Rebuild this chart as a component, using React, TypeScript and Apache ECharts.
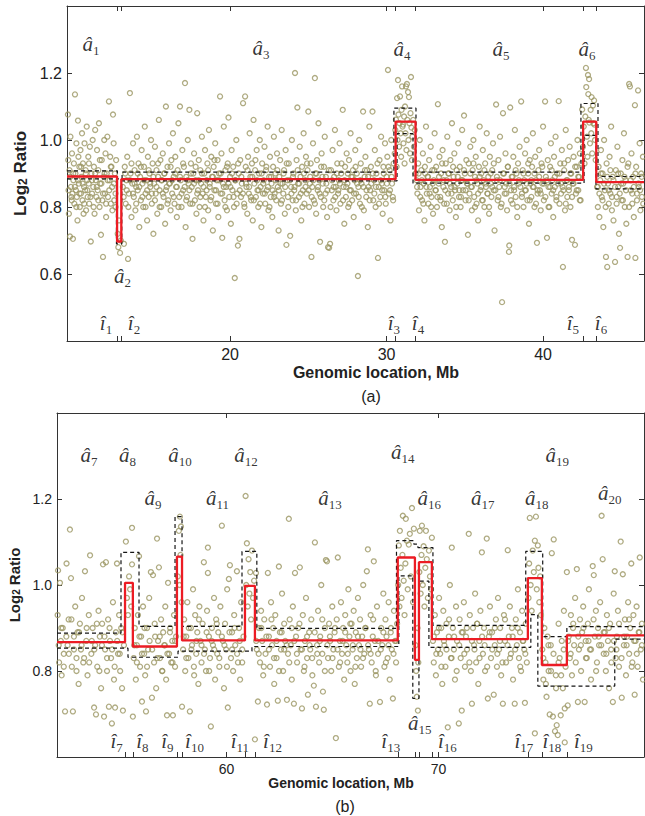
import React, { useEffect, useRef } from "react";
import * as echarts from "echarts";

const OLIVE = "#9b9663";
const RED = "#ec1c24";
const DASH = "#151515";

// ---------- Panel (a) ----------
const xRangeA = [9.58, 46.45];
const yRangeA = [0.4, 1.4];
const xLabelTicksA = [20, 30, 40];
const yLabelTicksA = [0.6, 0.8, 1.0, 1.2];
const breaksA = [12.78, 13.05, 30.58, 31.85, 42.56, 43.4];
const levelsA = [0.891, 0.697, 0.883, 1.055, 0.881, 1.055, 0.874];
const upBreaksA = [12.8, 13.1, 30.47, 31.88, 42.42, 43.51];
const upLevelsA = [0.908, 0.884, 0.904, 1.095, 0.904, 1.109, 0.891];
const lowBreaksA = [12.74, 13.08, 30.67, 31.69, 42.62, 43.38];
const lowLevelsA = [0.884, 0.69, 0.878, 1.019, 0.871, 1.014, 0.854];
const aHatA = [[11.11, 1.287, "1"], [13.13, 0.594, "2"], [21.98, 1.275, "3"], [30.99, 1.272, "4"], [37.31, 1.272, "5"], [42.81, 1.272, "6"]];
const iHatA = [[12.07, 0.455, "1"], [13.86, 0.455, "2"], [30.47, 0.455, "3"], [32.01, 0.455, "4"], [41.91, 0.455, "5"], [43.7, 0.455, "6"]];

const ptsA1 = [[9.64,1.076],[9.66,.94],[9.7,.78],[9.74,.91],[9.77,.712],[9.8,1.01],[9.83,.86],[9.86,.83],[9.9,.96],[9.93,.84],[9.96,.705],[9.99,.88],[10.02,.93],[10.05,.81],[10.09,1.136],[10.12,.9],[10.15,.85],[10.18,.99],[10.21,.83],[10.25,.76],[10.28,1.058],[10.31,.95],[10.34,.87],[10.37,.92],[10.4,.8],[10.44,.97],[10.47,.84],[10.5,.89],[10.54,1.02],[10.57,.82],[10.6,.93],[10.64,.78],[10.67,.86],[10.7,.99],[10.74,.85],[10.77,.91],[10.8,.79],[10.84,1.04],[10.87,.88],[10.9,.83],[10.94,.95],[10.97,.87],[11.0,.81],[11.04,.98],[11.1,.697],[11.14,.9],[11.18,.84],[11.22,1.0],[11.26,.86],[11.3,.92],[11.34,.78],[11.38,1.03],[11.42,.88],[11.46,.83],[11.5,.97],[11.54,.85],[11.58,.91],[11.62,1.05],[11.66,.8],[11.7,.87],[11.75,.717],[11.8,.94],[11.84,.82],[11.88,.651],[11.92,.89],[11.96,1.0],[12.0,.84],[12.04,.96],[12.08,.77],[12.12,.9],[12.16,1.01],[12.2,.83],[12.26,1.115],[12.3,.88],[12.34,.95],[12.38,.81],[12.42,.92],[12.46,.86],[12.52,1.076],[12.56,.99],[12.6,.82],[12.64,.9],[12.68,.8],[12.72,.94],[12.82,.72],[12.86,.68],[12.9,.76],[12.97,.663],[13.02,.7]];
const ptsA2 = [[13.15,.86],[13.22,.69],[13.27,.92],[13.33,.81],[13.38,.88],[13.43,.95],[13.48,.645],[13.53,.84],[13.6,1.14],[13.64,.9],[13.7,.77],[13.75,.87],[13.8,.99],[13.85,.83],[13.9,.91],[13.95,.79],[14.0,.86],[14.05,1.01],[14.1,.85],[14.15,.93],[14.2,.74],[14.25,.89],[14.3,.82],[14.35,.97],[14.4,.87],[14.45,.8],[14.5,.92],[14.55,1.04],[14.6,.84],[14.65,.88],[14.7,.76],[14.75,.95],[14.8,.83],[14.85,.9],[14.9,.86],[14.95,1.0],[15.0,.81],[15.05,.93],[15.1,.72],[15.15,.87],[15.2,.98],[15.25,.84],[15.3,.91],[15.35,.78],[15.4,.89],[15.45,1.06],[15.5,.85],[15.55,.94],[15.6,.8],[15.65,.88],[15.7,.96],[15.75,.83],[15.8,.9],[15.85,.75],[15.9,1.1],[15.95,.86],[16.0,.92],[16.05,.82],[16.1,.99],[16.15,.87],[16.2,.79],[16.25,.94],[16.3,.84],[16.35,1.02],[16.4,.89],[16.45,.81],[16.5,.95],[16.55,.86],[16.6,.77],[16.65,.91],[16.7,1.05],[16.75,.83],[16.8,1.1],[16.85,.88],[16.9,.8],[16.95,.97],[17.0,.85],[17.05,.92],[17.12,1.17],[17.16,.74],[17.2,.89],[17.25,.83],[17.3,1.0],[17.35,.87],[17.4,1.09],[17.45,.81],[17.5,.93],[17.55,.86],[17.6,.705],[17.65,.9],[17.7,.96],[17.75,.82],[17.8,.88],[17.85,.78],[17.9,1.08],[17.95,.85],[18.0,.94],[18.05,.8],[18.1,.91],[18.15,.87],[18.2,1.01],[18.25,.84],[18.3,.76],[18.35,.9],[18.4,.97],[18.45,.83],[18.5,.88],[18.55,.93],[18.6,.79],[18.65,1.03],[18.7,.86],[18.75,.82],[18.8,.95],[18.85,.89],[18.9,.73],[18.95,.92],[19.0,.85],[19.05,.99],[19.1,.81],[19.15,.88],[19.2,.94],[19.25,.77],[19.3,.9],[19.36,1.13],[19.4,.84],[19.45,.96],[19.5,.708],[19.55,.87],[19.6,1.04],[19.65,.82],[19.7,.91],[19.75,.86],[19.8,.79],[19.85,.93],[19.9,1.067],[19.95,.83]];
const ptsA3 = [[20.0,.89],[20.05,.75],[20.1,.97],[20.15,.85],[20.2,.92],[20.25,.8],[20.3,.588],[20.35,.88],[20.4,1.0],[20.45,.84],[20.5,.685],[20.55,.9],[20.6,.705],[20.65,.94],[20.7,.83],[20.75,.87],[20.83,1.11],[20.9,.81],[20.96,1.13],[21.0,.92],[21.05,.86],[21.1,.78],[21.15,.95],[21.2,.84],[21.25,1.02],[21.3,.89],[21.35,.82],[21.4,.93],[21.45,.76],[21.5,1.06],[21.55,.87],[21.6,.91],[21.65,.83],[21.7,.97],[21.75,.85],[21.8,.8],[21.85,.9],[21.9,1.0],[21.95,.86],[22.0,.74],[22.05,.93],[22.1,.84],[22.15,.88],[22.2,.98],[22.25,.81],[22.3,.91],[22.35,.85],[22.4,1.04],[22.45,.79],[22.5,.89],[22.55,.95],[22.6,.83],[22.65,.87],[22.7,.77],[22.75,.92],[22.8,1.01],[22.85,.84],[22.9,.9],[22.95,.82],[23.0,.96],[23.05,.86],[23.1,.73],[23.15,.89],[23.2,.94],[23.25,.81],[23.3,1.03],[23.35,.87],[23.4,.84],[23.45,.91],[23.5,.78],[23.55,.97],[23.6,.687],[23.65,.88],[23.7,.83],[23.75,.93],[23.84,.714],[23.9,.86],[23.95,1.0],[24.0,.82],[24.05,.9],[24.1,.85],[24.15,1.2],[24.2,.79],[24.25,.94],[24.3,1.097],[24.35,.87],[24.4,.83],[24.45,.98],[24.5,.89],[24.55,.76],[24.6,.92],[24.65,.85],[24.7,1.02],[24.75,.81],[24.8,.88],[24.85,.95],[24.9,.84],[24.95,.91],[25.0,1.085],[25.05,.8],[25.1,.87],[25.15,.93],[25.2,.651],[25.25,.86],[25.3,.99],[25.35,.82],[25.42,1.185],[25.45,.9],[25.5,.78],[25.55,.94],[25.6,.85],[25.65,1.05],[25.7,.88],[25.75,.696],[25.8,.83],[25.85,.96],[25.9,.89],[25.95,.8],[26.0,.92],[26.05,1.01],[26.1,.84],[26.15,.87],[26.2,.77],[26.26,.68],[26.33,.678],[26.39,.69],[26.45,.91],[26.5,.85],[26.55,.97],[26.6,.82],[26.65,.89],[26.7,1.03],[26.75,.86],[26.8,.79],[26.85,.93],[26.9,.84],[26.95,.88],[27.0,.99],[27.05,.81],[27.1,.9],[27.2,1.09],[27.25,.86],[27.3,.75],[27.35,.92],[27.4,.83],[27.45,.96],[27.5,.87],[27.55,.8],[27.6,.94],[27.65,.85],[27.7,1.02],[27.75,.89],[27.8,.82],[27.85,.91],[27.9,.77],[27.95,.88],[28.0,.97],[28.05,.84],[28.1,.9],[28.17,.594],[28.2,.86],[28.25,1.0],[28.3,.81],[28.35,.93],[28.4,.87],[28.5,1.085],[28.55,.79],[28.6,.89],[28.65,.95],[28.7,.83],[28.75,.91],[28.8,.74],[28.85,.86],[28.9,1.04],[28.95,.85],[29.0,.92],[29.1,1.085],[29.15,.82],[29.2,.88],[29.25,.97],[29.3,.8],[29.35,.9],[29.45,.648],[29.5,.86],[29.55,.94],[29.6,.83],[29.65,1.01],[29.7,.87],[29.75,.78],[29.8,.92],[29.85,.85],[29.9,.99],[29.95,.81],[30.0,.89],[30.05,.95],[30.09,1.209],[30.15,.84],[30.2,.91],[30.25,.76],[30.3,1.0],[30.35,.87],[30.4,.83],[30.45,.93]];
const ptsA4 = [[30.52,.96],[30.56,1.03],[30.6,1.061],[30.64,.92],[30.67,1.125],[30.7,1.0],[30.73,1.179],[30.76,1.076],[30.8,.98],[30.83,1.05],[30.86,1.13],[30.9,1.02],[30.93,.95],[30.96,1.09],[30.99,1.16],[31.02,1.04],[31.05,1.046],[31.08,.99],[31.12,1.07],[31.15,.93],[31.18,1.1],[31.21,1.02],[31.24,1.16],[31.27,.97],[31.3,1.167],[31.33,1.06],[31.37,1.143],[31.4,1.0],[31.43,1.128],[31.46,1.05],[31.5,.96],[31.53,1.08],[31.56,1.188],[31.59,1.037],[31.62,.94],[31.65,1.01],[31.7,1.06],[31.75,.98],[31.8,1.03],[31.85,.9]];
const ptsA5 = [[31.92,.88],[31.97,.84],[32.02,.93],[32.07,.79],[32.12,1.0],[32.17,.86],[32.22,.91],[32.27,.82],[32.32,.96],[32.37,.87],[32.42,.76],[32.47,.9],[32.52,1.04],[32.57,.84],[32.62,.89],[32.67,.81],[32.72,.94],[32.77,.86],[32.82,.98],[32.87,.83],[32.92,.91],[32.97,.78],[33.02,.88],[33.07,1.02],[33.12,.85],[33.17,.92],[33.22,.8],[33.28,1.107],[33.33,.87],[33.38,.95],[33.43,.83],[33.48,.9],[33.53,.74],[33.58,.97],[33.63,.86],[33.68,.81],[33.73,.696],[33.78,.93],[33.83,.88],[33.88,1.01],[33.93,.84],[33.98,.9],[34.03,.79],[34.08,.94],[34.13,.86],[34.18,1.05],[34.23,.82],[34.28,.89],[34.33,.96],[34.38,.85],[34.43,.77],[34.48,.91],[34.53,.87],[34.58,.99],[34.63,.83],[34.68,.92],[34.73,.8],[34.78,.88],[34.83,1.03],[34.88,.85],[34.95,1.073],[35.0,.9],[35.05,.82],[35.1,.94],[35.15,.87],[35.2,.717],[35.25,.93],[35.3,.84],[35.35,.98],[35.4,.86],[35.45,.79],[35.5,.91],[35.55,1.0],[35.6,.83],[35.65,.89],[35.7,.95],[35.75,.81],[35.8,.87],[35.85,.76],[35.9,.92],[35.95,1.04],[36.0,.85],[36.05,.9],[36.1,.82],[36.15,.97],[36.2,.88],[36.25,.8],[36.3,.93],[36.35,.86],[36.4,1.02],[36.45,.84],[36.5,.89],[36.55,.78],[36.6,.95],[36.65,.87],[36.7,.83],[36.75,.91],[36.8,.99],[36.85,.85],[36.9,.73],[37.0,1.106],[37.05,.88],[37.1,.82],[37.15,.94],[37.2,.86],[37.25,1.01],[37.3,.8],[37.38,.516],[37.44,1.08],[37.5,.9],[37.55,.84],[37.6,.96],[37.65,.87],[37.7,.79],[37.75,.92],[37.82,.666],[37.84,.685],[37.9,1.097],[37.95,.85],[38.0,.89],[38.05,.81],[38.1,.95],[38.15,.86],[38.2,1.03],[38.25,.83],[38.3,.9],[38.35,.77],[38.4,.93],[38.45,.87],[38.5,.98],[38.6,1.115],[38.65,.84],[38.7,.91],[38.75,.8],[38.8,.88],[38.85,.96],[38.9,.85],[38.95,1.0],[39.0,.82],[39.05,.9],[39.1,.75],[39.15,.94],[39.2,.87],[39.25,.83],[39.3,.92],[39.35,1.02],[39.4,.86],[39.45,.8],[39.5,.95],[39.55,.88],[39.61,.693],[39.65,.84],[39.7,.91],[39.75,.97],[39.8,.85],[39.85,.79],[39.9,.93],[39.95,.87],[40.0,1.04],[40.05,.82],[40.13,1.115],[40.18,.89],[40.25,.708],[40.3,.94],[40.35,.86],[40.4,.8],[40.45,.92],[40.5,.99],[40.55,.84],[40.6,.88],[40.65,.77],[40.7,.95],[40.75,.86],[40.8,1.01],[40.85,.83],[40.9,.9],[41.0,1.116],[41.05,.81],[41.1,.93],[41.15,.87],[41.2,.97],[41.27,.621],[41.3,.85],[41.35,.91],[41.4,.79],[41.45,1.03],[41.5,.88],[41.55,.83],[41.6,.94],[41.65,.86],[41.7,.98],[41.75,.8],[41.8,.9],[41.85,.702],[41.9,.87],[41.95,.95],[42.04,.687],[42.1,.84],[42.15,.92],[42.2,1.0],[42.25,.85],[42.3,.89],[42.35,.96],[42.4,.82],[42.45,.93]];
const ptsA6 = [[42.5,1.091],[42.55,.98],[42.6,1.04],[42.65,.93],[42.7,1.07],[42.74,1.215],[42.76,1.158],[42.8,1.01],[42.84,.95],[42.87,1.194],[42.89,1.137],[42.92,1.06],[42.94,1.182],[42.96,1.052],[43.0,.99],[43.04,1.09],[43.08,1.02],[43.1,1.128],[43.14,.96],[43.19,1.103],[43.22,1.05],[43.26,1.118],[43.28,1.046],[43.32,1.0],[43.36,.94]];
const ptsA7 = [[43.45,.86],[43.5,.8],[43.55,.92],[43.6,.77],[43.65,.88],[43.7,.97],[43.75,.83],[43.8,.9],[43.85,.74],[43.9,1.0],[43.95,.85],[44.02,.651],[44.06,.93],[44.1,.621],[44.15,.87],[44.2,.81],[44.25,.95],[44.3,.84],[44.35,1.04],[44.4,.79],[44.45,.89],[44.5,.76],[44.6,.636],[44.65,.91],[44.7,.83],[44.75,.98],[44.8,.86],[44.85,.72],[44.92,.678],[44.97,.9],[45.02,.82],[45.07,.94],[45.12,.87],[45.17,1.02],[45.22,.8],[45.27,.88],[45.32,.75],[45.4,.651],[45.45,.93],[45.5,1.167],[45.55,1.16],[45.6,.85],[45.65,.96],[45.7,.81],[45.75,.89],[45.8,.77],[45.87,1.104],[45.9,.648],[45.95,.92],[46.0,.84],[46.07,1.148],[46.12,.86],[46.17,.99],[46.22,.79],[46.27,.9],[46.32,.83],[46.38,.95]];
const ptsA8 = [[9.68,.85],[9.78,.89],[9.88,.82],[9.98,.9],[10.08,.86],[10.18,.8],[10.28,.88],[10.38,.84],[10.48,.92],[10.58,.87],[10.68,.81],[10.78,.9],[10.88,.85],[10.98,.93],[11.08,.83],[11.18,.88],[11.28,.8],[11.38,.9],[11.48,.86],[11.58,.82],[11.68,.94],[11.78,.87],[11.88,.84],[11.98,.9],[12.08,.81],[12.18,.88],[12.28,.85],[12.38,.92],[12.48,.79],[12.58,.87],[12.68,.84],[13.2,.83],[13.3,.9],[13.4,.85],[13.5,.8],[13.6,.88],[13.7,.93],[13.8,.84],[13.9,.87],[14.0,.81],[14.1,.9],[14.2,.86],[14.3,.92],[14.4,.83],[14.5,.88],[14.6,.8],[14.7,.85],[14.8,.91],[14.9,.87],[15.0,.84],[15.1,.89],[15.2,.82],[15.3,.86],[15.4,.93],[15.5,.8],[15.6,.88],[15.7,.84],[15.8,.9],[15.9,.85],[16.0,.81],[16.1,.87],[16.2,.92],[16.3,.88],[16.4,.83],[16.5,.9],[16.6,.86],[16.7,.8],[16.8,.89],[16.9,.84],[17.0,.93],[17.1,.86],[17.2,.82],[17.3,.88],[17.4,.85],[17.5,.9],[17.6,.81],[17.7,.87],[17.8,.92],[17.9,.84],[18.0,.88],[18.1,.83],[18.2,.9],[18.3,.86],[18.4,.8],[18.5,.85],[18.6,.91],[18.7,.87],[18.8,.83],[18.9,.89],[19.0,.94],[19.1,.85],[19.2,.81],[19.3,.88],[19.4,.9],[19.5,.84],[19.6,.86],[19.7,.8],[19.8,.92],[19.9,.87]];
const ptsA9 = [[20.02,.86],[20.12,.9],[20.22,.83],[20.32,.88],[20.42,.81],[20.52,.93],[20.62,.85],[20.72,.89],[20.82,.84],[20.92,.8],[21.02,.87],[21.12,.91],[21.22,.86],[21.32,.83],[21.42,.89],[21.52,.82],[21.62,.94],[21.72,.88],[21.82,.85],[21.92,.81],[22.02,.9],[22.12,.87],[22.22,.84],[22.32,.92],[22.42,.86],[22.52,.8],[22.62,.89],[22.72,.85],[22.82,.83],[22.92,.88],[23.02,.91],[23.12,.85],[23.22,.87],[23.32,.82],[23.42,.9],[23.52,.86],[23.62,.93],[23.72,.8],[23.82,.88],[23.92,.84],[24.02,.89],[24.12,.86],[24.22,.82],[24.32,.91],[24.42,.87],[24.52,.84],[24.62,.8],[24.72,.9],[24.82,.86],[24.92,.93],[25.02,.85],[25.12,.89],[25.22,.83],[25.32,.88],[25.42,.81],[25.52,.9],[25.62,.86],[25.72,.84],[25.82,.92],[25.92,.87],[26.02,.82],[26.12,.89],[26.22,.85],[26.32,.91],[26.42,.8],[26.52,.88],[26.62,.86],[26.72,.83],[26.82,.9],[26.92,.85],[27.02,.87],[27.12,.93],[27.22,.82],[27.32,.88],[27.42,.86],[27.52,.9],[27.62,.81],[27.72,.85],[27.82,.89],[27.92,.84],[28.02,.92],[28.12,.87],[28.22,.83],[28.32,.88],[28.42,.8],[28.52,.86],[28.62,.91],[28.72,.85],[28.82,.89],[28.92,.82],[29.02,.87],[29.12,.9],[29.22,.84],[29.32,.86],[29.42,.93],[29.52,.81],[29.62,.88],[29.72,.85],[29.82,.9],[29.92,.83],[30.02,.87],[30.12,.92],[30.22,.85],[30.32,.89],[30.42,.82]];
const ptsA10 = [[31.95,.86],[32.05,.9],[32.15,.83],[32.25,.88],[32.35,.81],[32.45,.92],[32.55,.86],[32.65,.89],[32.75,.84],[32.85,.8],[32.95,.87],[33.05,.91],[33.15,.85],[33.25,.83],[33.35,.89],[33.45,.82],[33.55,.93],[33.65,.88],[33.75,.85],[33.85,.81],[33.95,.9],[34.05,.87],[34.15,.84],[34.25,.92],[34.35,.86],[34.45,.8],[34.55,.89],[34.65,.85],[34.75,.83],[34.85,.88],[34.95,.91],[35.05,.85],[35.15,.87],[35.25,.82],[35.35,.9],[35.45,.86],[35.55,.93],[35.65,.8],[35.75,.88],[35.85,.84],[35.95,.89],[36.05,.86],[36.15,.82],[36.25,.91],[36.35,.87],[36.45,.84],[36.55,.8],[36.65,.9],[36.75,.86],[36.85,.93],[36.95,.85],[37.05,.89],[37.15,.83],[37.25,.88],[37.35,.81],[37.45,.9],[37.55,.86],[37.65,.84],[37.75,.92],[37.85,.87],[37.95,.82],[38.05,.89],[38.15,.85],[38.25,.91],[38.35,.8],[38.45,.88],[38.55,.86],[38.65,.83],[38.75,.9],[38.85,.85],[38.95,.87],[39.05,.93],[39.15,.82],[39.25,.88],[39.35,.86],[39.45,.9],[39.55,.81],[39.65,.85],[39.75,.89],[39.85,.84],[39.95,.92],[40.05,.87],[40.15,.83],[40.25,.88],[40.35,.8],[40.45,.86],[40.55,.91],[40.65,.85],[40.75,.89],[40.85,.82],[40.95,.87],[41.05,.9],[41.15,.84],[41.25,.86],[41.35,.93],[41.45,.81],[41.55,.88],[41.65,.85],[41.75,.9],[41.85,.83],[41.95,.87],[42.05,.92],[42.15,.85],[42.25,.89],[42.35,.82],[43.5,.86],[43.6,.84],[43.7,.9],[43.8,.82],[43.9,.87],[44.0,.8],[44.1,.89],[44.2,.85],[44.3,.91],[44.4,.83],[44.5,.88],[44.6,.86],[44.7,.81],[44.8,.9],[44.9,.84],[45.0,.87],[45.1,.82],[45.2,.89],[45.3,.85],[45.4,.92],[45.5,.8],[45.6,.88],[45.7,.84],[45.8,.86],[45.9,.9],[46.0,.82],[46.1,.87],[46.2,.85],[46.3,.89],[46.4,.81]];

// ---------- Panel (b) ----------
const xRangeB = [52.0, 79.7];
const yRangeB = [0.6, 1.4];
const xLabelTicksB = [60, 70];
const yLabelTicksB = [0.8, 1.0, 1.2];
const breaksB = [55.21, 55.58, 57.66, 57.9, 60.87, 61.34, 68.08, 68.89, 69.08, 69.69, 74.22, 74.88, 76.06];
const levelsB = [0.867, 1.005, 0.857, 1.066, 0.871, 0.998, 0.871, 1.064, 0.826, 1.053, 0.874, 1.016, 0.814, 0.883];
const upBreaksB = [55.02, 55.87, 57.57, 57.9, 60.73, 61.43, 68.02, 68.84, 69.03, 69.74, 74.12, 74.92, 76.06];
const upLevelsB = [0.888, 1.076, 0.904, 1.159, 0.904, 1.078, 0.899, 1.103, 1.095, 1.087, 0.906, 1.078, 0.88, 0.903];
const lowBreaksB = [55.35, 57.71, 61.2, 68.13, 68.79, 69.08, 69.55, 74.36, 74.69, 78.32];
const lowLevelsB = [0.853, 0.832, 0.846, 0.857, 1.021, 0.736, 1.009, 0.855, 0.931, 0.765, 0.874];
const aHatB = [[53.51, 1.303, "7"], [55.33, 1.303, "8"], [56.53, 1.202, "9"], [57.8, 1.303, "10"], [59.57, 1.202, "11"], [60.92, 1.303, "12"], [64.88, 1.202, "13"], [68.32, 1.31, "14"], [69.12, 0.68, "15"], [69.57, 1.202, "16"], [72.09, 1.202, "17"], [74.64, 1.202, "18"], [75.61, 1.303, "19"], [78.08, 1.214, "20"]];
const iHatB = [[54.81, 0.637, "7"], [56.03, 0.637, "8"], [57.21, 0.637, "9"], [58.49, 0.637, "10"], [60.63, 0.637, "11"], [62.17, 0.637, "12"], [67.75, 0.637, "13"], [70.42, 0.637, "16"], [74.03, 0.637, "17"], [75.35, 0.637, "18"], [76.84, 0.637, "19"]];

const ptsB1 = [[52.03,.93],[52.05,1.034],[52.1,.82],[52.14,1.005],[52.18,.87],[52.22,.79],[52.27,.9],[52.32,.84],[52.38,.706],[52.45,1.05],[52.5,.86],[52.55,.92],[52.61,1.129],[52.66,1.016],[52.7,.81],[52.75,.706],[52.8,.88],[52.86,.95],[52.92,.83],[52.97,.89],[53.02,.77],[53.08,.91],[53.13,.85],[53.18,.97],[53.24,.82],[53.32,1.032],[53.38,.87],[53.44,.79],[53.5,.93],[53.56,1.069],[53.62,.84],[53.68,.9],[53.75,.715],[53.8,.86],[53.84,.699],[53.9,.81],[53.96,.94],[54.02,.88],[54.08,.76],[54.13,.91],[54.17,1.048],[54.22,.694],[54.27,.85],[54.31,1.053],[54.36,.8],[54.41,.92],[54.45,.717],[54.5,.87],[54.55,.83],[54.59,.678],[54.64,.96],[54.69,.78],[54.74,.715],[54.78,.89],[54.83,1.05],[54.88,.84],[54.93,.93],[54.98,.8],[55.03,.9],[55.07,.76],[55.11,.708],[55.16,.86]];
const ptsB2 = [[55.25,1.101],[55.3,.97],[55.35,.93],[55.4,1.02],[55.45,.99],[55.5,.95],[55.54,1.133],[55.54,1.048],[55.58,.694],[55.62,.83],[55.67,.9],[55.72,.78],[55.77,.86],[55.82,.93],[55.87,1.067],[55.92,.81],[55.97,.88],[56.01,.729],[56.06,.95],[56.11,.84],[56.16,.79],[56.2,.706],[56.25,.9],[56.3,.85],[56.35,.97],[56.43,1.03],[56.48,.738],[56.53,1.023],[56.58,.82],[56.63,.88],[56.68,.76],[56.72,1.108],[56.77,.87],[56.81,1.041],[56.86,.83],[56.91,.92],[56.96,.8],[57.01,.89],[57.06,.86],[57.11,.95],[57.15,.78],[57.19,.697],[57.24,1.005],[57.29,.84],[57.34,.9],[57.39,.82],[57.44,.87],[57.47,.697],[57.52,.93],[57.57,.81],[57.62,.88],[57.7,1.02],[57.75,1.126],[57.78,1.0],[57.8,1.159],[57.83,1.07],[57.85,1.136],[57.88,.96]];
const ptsB3 = [[57.9,.717],[57.95,.85],[58.0,.92],[58.05,.8],[58.1,.88],[58.15,.96],[58.2,.83],[58.27,.706],[58.32,.9],[58.37,.86],[58.42,.99],[58.47,.79],[58.52,.93],[58.57,.84],[58.62,.89],[58.67,.77],[58.72,.95],[58.77,.87],[58.82,.82],[58.87,.91],[58.93,1.053],[58.98,.85],[59.03,.8],[59.08,.94],[59.12,1.087],[59.12,1.028],[59.17,.88],[59.22,.83],[59.26,.671],[59.31,.9],[59.36,.86],[59.41,.97],[59.46,.78],[59.51,.92],[59.56,.84],[59.61,.89],[59.66,.81],[59.71,.95],[59.78,1.138],[59.83,.87],[59.88,.76],[59.93,.91],[59.98,.85],[60.03,.99],[60.06,.715],[60.11,1.014],[60.16,1.046],[60.21,.83],[60.26,.89],[60.31,.8],[60.36,.93],[60.41,.86],[60.49,1.032],[60.54,.82],[60.59,.9],[60.64,.78],[60.69,.96],[60.74,.85],[60.8,.88],[60.9,1.207],[60.93,1.0],[60.96,1.097],[61.0,.95],[61.04,1.06],[61.08,.98],[61.12,1.03],[61.16,.92],[61.2,1.08],[61.25,.97],[61.3,1.01],[61.34,.641]];
const ptsB4 = [[61.39,1.028],[61.43,.85],[61.48,.729],[61.53,.9],[61.58,.82],[61.63,.94],[61.68,.87],[61.73,.79],[61.78,.92],[61.84,.84],[61.91,.722],[61.95,1.028],[62.0,.88],[62.05,.81],[62.1,.96],[62.15,.86],[62.2,.9],[62.25,.77],[62.3,.93],[62.36,.83],[62.42,.731],[62.47,1.043],[62.52,.89],[62.57,.85],[62.62,.98],[62.67,.8],[62.72,.91],[62.77,.87],[62.85,.733],[62.9,.84],[62.94,1.154],[62.98,.92],[63.03,.86],[63.08,.78],[63.13,.95],[63.18,.724],[63.23,1.028],[63.28,.88],[63.33,.82],[63.38,.9],[63.46,1.041],[63.5,.85],[63.56,.713],[63.6,.93],[63.65,.8],[63.7,.87],[63.75,.97],[63.8,.83],[63.84,.745],[63.9,.89],[63.95,.85],[64.0,.92],[64.05,.79],[64.12,.766],[64.17,1.099],[64.22,.717],[64.27,.86],[64.32,.94],[64.37,.82],[64.42,.88],[64.47,1.0],[64.52,.84],[64.55,.752],[64.59,.71],[64.64,.9],[64.69,1.058],[64.74,1.055],[64.79,.83],[64.84,.91],[64.89,.87],[64.94,.8],[64.99,.95],[65.04,.85],[65.1,.89],[65.16,.644],[65.2,.92],[65.25,1.064],[65.3,.81],[65.35,.87],[65.4,.96],[65.45,.84],[65.5,.9],[65.55,.78],[65.6,.93],[65.65,.86],[65.7,.82],[65.75,.99],[65.8,.88],[65.85,.8],[65.9,.91],[65.95,.85],[66.0,.94],[66.05,.77],[66.1,.89],[66.15,.83],[66.2,.97],[66.25,.86],[66.3,.92],[66.35,.81],[66.4,.88],[66.45,1.0],[66.5,.84],[66.55,.9],[66.62,1.032],[66.67,1.083],[66.72,.85],[66.76,.724],[66.8,.93],[66.85,.82],[66.9,.88],[66.95,1.055],[67.0,.87],[67.05,.79],[67.1,.95],[67.15,.84],[67.24,.728],[67.3,.9],[67.35,.86],[67.4,.98],[67.45,.81],[67.5,.92],[67.55,.88],[67.6,.83],[67.65,.96],[67.7,.78],[67.75,.89],[67.8,.85],[67.85,.736],[67.9,.94],[67.95,.87],[68.0,.82],[68.05,.91]];
const ptsB5 = [[68.1,1.0],[68.13,1.092],[68.16,.95],[68.18,1.126],[68.22,1.04],[68.26,.97],[68.3,1.07],[68.32,1.161],[68.36,1.01],[68.4,.93],[68.44,1.05],[68.46,1.154],[68.51,1.103],[68.55,.99],[68.6,1.094],[68.65,1.119],[68.7,1.02],[68.75,1.179],[68.8,.96],[68.84,1.131],[68.92,.86],[68.95,.8],[68.98,.74],[69.01,.9],[69.03,.708],[69.05,.82],[69.1,1.03],[69.12,1.126],[69.16,.98],[69.2,1.07],[69.22,1.138],[69.26,1.0],[69.3,1.09],[69.34,.95],[69.38,1.04],[69.41,1.126],[69.45,1.06],[69.5,.97],[69.55,1.08],[69.6,1.02],[69.65,.99],[69.69,1.11]];
const ptsB6 = [[69.74,.87],[69.78,.82],[69.83,.93],[69.88,.79],[69.93,.89],[69.98,.85],[70.03,.97],[70.08,.84],[70.13,.9],[70.18,.77],[70.23,.94],[70.28,.86],[70.33,.81],[70.38,.91],[70.44,.669],[70.49,.88],[70.54,1.0],[70.59,.83],[70.63,1.087],[70.68,.9],[70.73,.85],[70.78,.78],[70.83,.95],[70.88,.87],[70.96,.678],[71.0,.92],[71.05,.83],[71.1,.708],[71.15,.89],[71.2,.96],[71.25,.81],[71.3,.88],[71.35,.85],[71.43,1.119],[71.48,.93],[71.53,.8],[71.58,.724],[71.63,.9],[71.68,.86],[71.73,.98],[71.78,.82],[71.83,.91],[71.88,.77],[71.93,.87],[71.98,.94],[72.05,1.076],[72.1,.84],[72.15,.9],[72.2,.8],[72.28,1.108],[72.33,.736],[72.38,.88],[72.43,.95],[72.48,.83],[72.53,.89],[72.61,.745],[72.66,.86],[72.71,.92],[72.76,.81],[72.81,.97],[72.86,.85],[72.91,.9],[72.96,.79],[73.04,.724],[73.09,.93],[73.14,.87],[73.19,.82],[73.27,1.081],[73.32,.88],[73.37,.95],[73.42,.84],[73.47,.9],[73.52,.78],[73.6,.724],[73.65,.92],[73.7,.86],[73.75,.99],[73.8,.83],[73.85,.89],[73.9,.8],[73.95,.94],[74.0,.87],[74.05,.85],[74.08,.726],[74.12,.91],[74.17,.82]];
const ptsB7 = [[74.25,.97],[74.28,1.05],[74.31,1.156],[74.35,1.0],[74.4,.94],[74.45,1.08],[74.5,1.03],[74.55,1.103],[74.55,.655],[74.6,1.159],[74.64,.99],[74.69,1.092],[74.72,1.04],[74.76,.96],[74.8,1.02],[74.84,.93],[74.9,.85],[74.95,.78],[75.0,.9],[75.05,.82],[75.1,.74],[75.15,.88],[75.2,.8],[75.25,.699],[75.3,.86],[75.35,1.074],[75.4,.694],[75.44,1.106],[75.5,.66],[75.54,.79],[75.58,.674],[75.63,.651],[75.67,.91],[75.72,.83],[75.77,.697],[75.82,.87],[75.87,.76],[75.92,.94],[75.96,.713],[75.96,.634],[76.0,.81]];
const ptsB8 = [[76.06,1.03],[76.1,.72],[76.15,.88],[76.2,.83],[76.25,.93],[76.3,.79],[76.35,.9],[76.4,.86],[76.45,.97],[76.53,1.037],[76.58,.728],[76.63,.85],[76.68,.92],[76.73,.8],[76.78,.89],[76.83,.95],[76.9,.728],[76.95,.87],[77.0,.83],[77.05,.91],[77.1,.99],[77.15,.85],[77.2,.78],[77.28,1.044],[77.33,1.023],[77.38,.88],[77.43,.94],[77.48,.82],[77.53,.9],[77.58,.86],[77.63,.96],[77.7,1.161],[77.75,1.06],[77.8,.84],[77.85,.89],[77.9,.8],[77.95,.93],[78.0,.87],[78.05,.76],[78.1,.91],[78.15,.85],[78.23,.728],[78.27,.98],[78.32,1.032],[78.37,.83],[78.42,.88],[78.47,.94],[78.52,.81],[78.6,1.101],[78.65,.738],[78.7,1.025],[78.75,.86],[78.8,.92],[78.85,.79],[78.9,.88],[78.95,.96],[79.0,.84],[79.05,.9],[79.1,1.05],[79.15,.82],[79.2,.93],[79.26,.745],[79.3,.87],[79.35,.95],[79.4,.81],[79.45,.89],[79.5,1.064],[79.55,.85],[79.6,.91],[79.65,.78]];
const ptsB9 = [[52.08,.86],[52.2,.9],[52.32,.81],[52.44,.88],[52.56,.84],[52.68,.92],[52.8,.85],[52.92,.8],[53.04,.89],[53.16,.86],[53.28,.83],[53.4,.9],[53.52,.82],[53.64,.87],[53.76,.85],[53.88,.91],[54.0,.8],[54.12,.86],[54.24,.88],[54.36,.83],[54.48,.9],[54.6,.85],[54.72,.81],[54.84,.87],[54.96,.84],[55.08,.89],[55.65,.86],[55.77,.82],[55.89,.88],[56.01,.84],[56.13,.9],[56.25,.81],[56.37,.87],[56.49,.85],[56.61,.91],[56.73,.83],[56.85,.88],[56.97,.8],[57.09,.86],[57.21,.84],[57.33,.89],[57.45,.82],[57.57,.87],[57.98,.88],[58.1,.83],[58.22,.9],[58.34,.85],[58.46,.81],[58.58,.87],[58.7,.92],[58.82,.86],[58.94,.84],[59.06,.89],[59.18,.8],[59.3,.87],[59.42,.85],[59.54,.91],[59.66,.83],[59.78,.88],[59.9,.86],[60.02,.81],[60.14,.89],[60.26,.85],[60.38,.9],[60.5,.84],[60.62,.87],[60.74,.82]];
const ptsB10 = [[61.4,.87],[61.52,.84],[61.64,.9],[61.76,.81],[61.88,.88],[62.0,.85],[62.12,.92],[62.24,.83],[62.36,.87],[62.48,.8],[62.6,.89],[62.72,.85],[62.84,.86],[62.96,.82],[63.08,.9],[63.2,.87],[63.32,.84],[63.44,.91],[63.56,.85],[63.68,.81],[63.8,.88],[63.92,.86],[64.04,.83],[64.16,.89],[64.28,.84],[64.4,.87],[64.52,.92],[64.64,.8],[64.76,.86],[64.88,.88],[65.0,.83],[65.12,.9],[65.24,.85],[65.36,.82],[65.48,.87],[65.6,.89],[65.72,.84],[65.84,.91],[65.96,.86],[66.08,.81],[66.2,.88],[66.32,.85],[66.44,.83],[66.56,.9],[66.68,.86],[66.8,.84],[66.92,.92],[67.04,.8],[67.16,.87],[67.28,.85],[67.4,.89],[67.52,.82],[67.64,.86],[67.76,.9],[67.88,.84],[68.0,.87],[69.78,.88],[69.9,.84],[70.02,.9],[70.14,.81],[70.26,.87],[70.38,.85],[70.5,.92],[70.62,.83],[70.74,.88],[70.86,.8],[70.98,.86],[71.1,.89],[71.22,.84],[71.34,.9],[71.46,.82],[71.58,.87],[71.7,.85],[71.82,.91],[71.94,.83],[72.06,.88],[72.18,.86],[72.3,.81],[72.42,.89],[72.54,.85],[72.66,.9],[72.78,.84],[72.9,.87],[73.02,.82],[73.14,.92],[73.26,.86],[73.38,.83],[73.5,.88],[73.62,.85],[73.74,.9],[73.86,.81],[73.98,.87],[74.1,.84]];
const ptsB11 = [[74.95,.83],[75.07,.77],[75.19,.86],[75.31,.8],[75.43,.84],[75.55,.76],[75.67,.82],[75.79,.79],[75.91,.85],[76.12,.87],[76.24,.84],[76.36,.91],[76.48,.82],[76.6,.88],[76.72,.86],[76.84,.9],[76.96,.83],[77.08,.87],[77.2,.85],[77.32,.92],[77.44,.8],[77.56,.88],[77.68,.86],[77.8,.89],[77.92,.84],[78.04,.9],[78.16,.82],[78.28,.87],[78.4,.85],[78.52,.91],[78.64,.83],[78.76,.88],[78.88,.86],[79.0,.92],[79.12,.81],[79.24,.87],[79.36,.84],[79.48,.89],[79.6,.86]];

function steps(x0: number, x1: number, br: number[], lv: number[]) {
  const pts: number[][] = [[x0, lv[0]]];
  br.forEach((b, i) => {
    pts.push([b, lv[i]]);
    pts.push([b, lv[i + 1]]);
  });
  pts.push([x1, lv[lv.length - 1]]);
  return pts;
}

const richLbl = {
  m: { fontFamily: "Liberation Serif", fontStyle: "italic", fontSize: 21, color: "#000", lineHeight: 26, verticalAlign: "middle", textBorderWidth: 0 },
  s: { fontFamily: "Liberation Serif", fontSize: 13, color: "#000", lineHeight: 12, verticalAlign: "bottom", textBorderWidth: 0 },
};

function labelSeries(items: any[], glyph: string, xi: number, yi: number) {
  return {
    type: "scatter",
    xAxisIndex: xi,
    yAxisIndex: yi,
    symbolSize: 1,
    silent: true,
    itemStyle: { color: "rgba(0,0,0,0)" },
    z: 10,
    data: items.map((d) => ({ value: [d[0], d[1]], name: d[2] })),
    label: {
      show: true,
      position: "inside",
      color: "#000",
      textBorderWidth: 0,
      formatter: (p: any) => `{m|${glyph}}{s|${p.name}}`,
      rich: richLbl,
    },
  };
}

const axisCol = "#333";

function xAxes(grid: number, range: number[], lbl: number[], ticks: number[], fs: number, topTicks: number[]) {
  return [
    {
      type: "value", gridIndex: grid, position: "bottom", min: range[0], max: range[1],
      splitLine: { show: false },
      axisLine: { lineStyle: { color: axisCol, width: 1 } },
      axisTick: { inside: true, length: 5, customValues: ticks, lineStyle: { color: axisCol } },
      axisLabel: { customValues: lbl, margin: 5, fontSize: fs, color: "#222", fontFamily: "Liberation Sans" },
    },
    {
      type: "value", gridIndex: grid, position: "top", min: range[0], max: range[1],
      splitLine: { show: false },
      axisLine: { lineStyle: { color: axisCol, width: 1 } },
      axisTick: { inside: true, length: 5, customValues: topTicks, lineStyle: { color: axisCol } },
      axisLabel: { show: false },
    },
  ];
}

function yAxes(grid: number, range: number[], lbl: number[], fs: number, gap: number, nfs: number) {
  return [
    {
      type: "value", gridIndex: grid, position: "left", min: range[0], max: range[1],
      splitLine: { show: false },
      axisLine: { lineStyle: { color: axisCol, width: 1 } },
      axisTick: { inside: true, length: 5, customValues: lbl, lineStyle: { color: axisCol } },
      axisLabel: { customValues: lbl, margin: 5, fontSize: fs, color: "#222", fontFamily: "Liberation Sans", formatter: (v: number) => v.toFixed(1) },
      name: "{b|Log}{s|2}{b| Ratio}",
      nameLocation: "middle",
      nameRotate: 90,
      nameGap: gap,
      nameTextStyle: {
        rich: {
          b: { fontFamily: "Liberation Sans", fontWeight: "bold", fontSize: nfs, color: "#222" },
          s: { fontFamily: "Liberation Sans", fontWeight: "bold", fontSize: Math.round(nfs * 0.68), color: "#222", verticalAlign: "bottom", lineHeight: Math.round(nfs * 0.6) },
        },
      },
    },
    {
      type: "value", gridIndex: grid, position: "right", min: range[0], max: range[1],
      splitLine: { show: false },
      axisLine: { lineStyle: { color: axisCol, width: 1 } },
      axisTick: { inside: true, length: 5, customValues: lbl, lineStyle: { color: axisCol } },
      axisLabel: { show: false },
    },
  ];
}

function panelSeries(pts: number[][], xr: number[], br: number[], lv: number[], ub: number[], ul: number[], lb: number[], ll: number[], xi: number, yi: number) {
  return [
    {
      type: "scatter", xAxisIndex: xi, yAxisIndex: yi, data: pts, symbol: "circle", symbolSize: 5,
      itemStyle: { color: "rgba(0,0,0,0)", borderColor: OLIVE, borderWidth: 1.3 }, silent: true, z: 2,
    },
    {
      type: "line", xAxisIndex: xi, yAxisIndex: yi, data: steps(xr[0], xr[1], ub, ul), symbol: "none", silent: true, z: 3,
      lineStyle: { color: DASH, width: 1.2, type: [4, 3] },
    },
    {
      type: "line", xAxisIndex: xi, yAxisIndex: yi, data: steps(xr[0], xr[1], lb, ll), symbol: "none", silent: true, z: 3,
      lineStyle: { color: DASH, width: 1.2, type: [4, 3] },
    },
    {
      type: "line", xAxisIndex: xi, yAxisIndex: yi, data: steps(xr[0], xr[1], br, lv), symbol: "none", silent: true, z: 4,
      lineStyle: { color: RED, width: 2.3 },
    },
  ];
}

export default function App() {
  const ref = useRef<HTMLDivElement>(null);
  useEffect(() => {
    document.body.style.margin = "0";
    if (!ref.current) return;
    const chart = echarts.init(ref.current, undefined, { renderer: "svg" });
    const ptsA = [...ptsA1, ...ptsA2, ...ptsA3, ...ptsA4, ...ptsA5, ...ptsA6, ...ptsA7, ...ptsA8, ...ptsA9, ...ptsA10];
    const ptsB = [...ptsB1, ...ptsB2, ...ptsB3, ...ptsB4, ...ptsB5, ...ptsB6, ...ptsB7, ...ptsB8, ...ptsB9, ...ptsB10, ...ptsB11];
    const option: any = {
      animation: false,
      backgroundColor: "#fff",
      textStyle: { fontFamily: "Liberation Sans" },
      grid: [
        { left: 67, right: 1, top: 6, height: 335, outerBoundsMode: "none" },
        { left: 57, right: 1, top: 413, height: 344, outerBoundsMode: "none" },
      ],
      xAxis: [
        ...xAxes(0, xRangeA, xLabelTicksA, [...xLabelTicksA, ...breaksA], 16, [...xLabelTicksA, ...breaksA]),
        ...xAxes(1, xRangeB, xLabelTicksB, [...xLabelTicksB, ...breaksB], 14, xLabelTicksB),
      ],
      yAxis: [
        ...yAxes(0, yRangeA, yLabelTicksA, 16, 31, 17),
        ...yAxes(1, yRangeB, yLabelTicksB, 14, 26, 15),
      ],
      series: [
        ...panelSeries(ptsA, xRangeA, breaksA, levelsA, upBreaksA, upLevelsA, lowBreaksA, lowLevelsA, 0, 0),
        labelSeries(aHatA, "â", 0, 0),
        labelSeries(iHatA, "î", 0, 0),
        ...panelSeries(ptsB, xRangeB, breaksB, levelsB, upBreaksB, upLevelsB, lowBreaksB, lowLevelsB, 2, 2),
        labelSeries(aHatB, "â", 2, 2),
        labelSeries(iHatB, "î", 2, 2),
      ],
      graphic: [
        { type: "text", x: 376, y: 372, style: { text: "Genomic location, Mb", fontFamily: "Liberation Sans", fontWeight: "bold", fontSize: 16, fill: "#222", align: "center", verticalAlign: "middle" } },
        { type: "text", x: 371, y: 396, style: { text: "(a)", fontFamily: "Liberation Sans", fontSize: 16, fill: "#222", align: "center", verticalAlign: "middle" } },
        { type: "text", x: 341, y: 783, style: { text: "Genomic location, Mb", fontFamily: "Liberation Sans", fontWeight: "bold", fontSize: 14, fill: "#222", align: "center", verticalAlign: "middle" } },
        { type: "text", x: 345, y: 806, style: { text: "(b)", fontFamily: "Liberation Sans", fontSize: 16, fill: "#222", align: "center", verticalAlign: "middle" } },
      ],
    };
    chart.setOption(option);
    return () => chart.dispose();
  }, []);
  return <div ref={ref} style={{ width: 645, height: 816 }} />;
}
